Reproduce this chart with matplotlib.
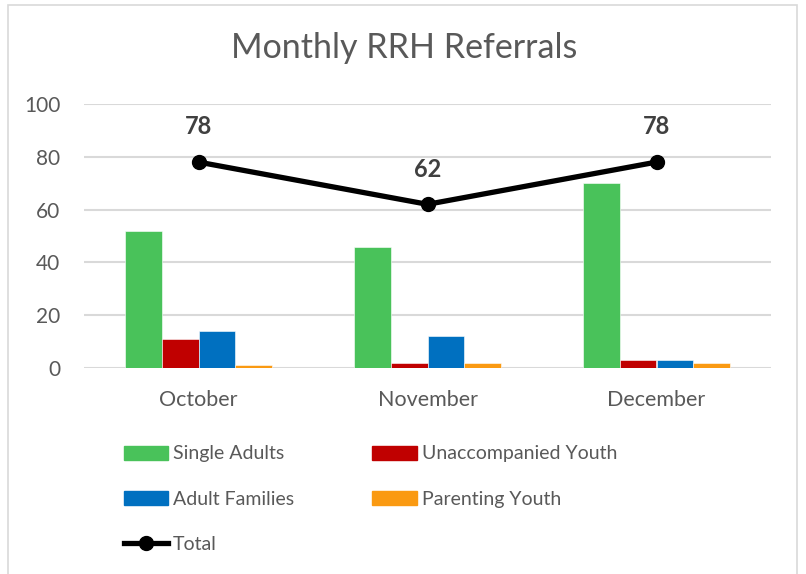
import matplotlib.pyplot as plt
from matplotlib.patches import Patch, Rectangle
from matplotlib.lines import Line2D

plt.rcParams['font.family'] = ['Lato', 'DejaVu Sans']

months = ['October', 'November', 'December']
single_adults = [52, 46, 70]
unaccompanied_youth = [11, 2, 3]
adult_families = [14, 12, 3]
parenting_youth = [1, 2, 2]
total = [78, 62, 78]

series = [
    ('Single Adults', single_adults, '#49C25A'),
    ('Unaccompanied Youth', unaccompanied_youth, '#C00000'),
    ('Adult Families', adult_families, '#0070C0'),
    ('Parenting Youth', parenting_youth, '#FA9A12'),
]

fig = plt.figure(figsize=(8.06, 5.74), dpi=100)
ax = fig.add_axes([84 / 806, 1 - 368 / 574, (771 - 84) / 806, (368 - 104) / 574])

x = range(len(months))
w = 0.16
handles = {}
for i, (name, vals, col) in enumerate(series):
    pos = [k + (i - 1.5) * w for k in x]
    ax.bar(pos, vals, width=w, color=col, edgecolor='white', linewidth=0.4, zorder=2)
    handles[name] = Patch(color=col, label=name)

ax.plot(list(x), total, color='black', lw=3.8, marker='o', ms=10, zorder=3)
for k, v in zip(x, total):
    ax.annotate(str(v), (k, v), xytext=(0, 17), textcoords='offset points',
                ha='center', va='bottom', fontsize=17, fontweight='bold', color='#404040')

ax.set_xlim(-0.5, 2.5)
ax.set_ylim(0, 100)
ax.set_yticks(range(0, 101, 20))
ax.set_xticks(list(x))
ax.set_xticklabels(months)
ax.grid(axis='y', color='#D9D9D9', lw=1.5, zorder=0)
ax.set_axisbelow(True)
for s in ax.spines.values():
    s.set_visible(False)
ax.tick_params(axis='x', length=0, labelsize=15.5, colors='#595959', pad=16)
ax.tick_params(axis='y', length=0, labelsize=15, colors='#595959', pad=17)

fig.text(404 / 806, 1 - 48 / 574, 'Monthly RRH Referrals', ha='center', va='center',
         fontsize=24.5, color='#595959')

tot_handle = Line2D([], [], color='black', lw=3.8, marker='o', ms=10, label='Total')
order = [handles['Single Adults'], handles['Adult Families'], tot_handle,
         handles['Unaccompanied Youth'], handles['Parenting Youth']]
leg = fig.legend(handles=order, ncol=2, loc='upper left',
                 bbox_to_anchor=(106 / 806, 1 - 428 / 574), frameon=False,
                 fontsize=14, handlelength=2.3, handleheight=0.7,
                 handletextpad=0.25, columnspacing=4.0, labelspacing=1.45)
for t in leg.get_texts():
    t.set_color('#595959')

fig.patches.append(Rectangle((8 / 806, -0.01), (797 - 8) / 806, 1 - 5 / 574 + 0.01,
                             transform=fig.transFigure, fill=False,
                             edgecolor='#D9D9D9', lw=1.2))

fig.savefig('out.png', dpi=100)
